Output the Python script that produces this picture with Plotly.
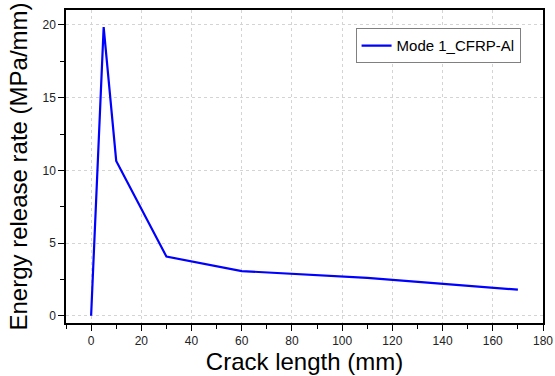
import plotly.graph_objects as go

crack_length = [0, 5, 10, 30, 60, 110, 170]
energy_release = [0, 19.85, 10.65, 4.07, 3.07, 2.6, 1.79]
series_name = "Mode 1_CFRP-Al"

fig = go.Figure()
fig.add_trace(go.Scatter(
    x=crack_length, y=energy_release, mode="lines", name=series_name,
    line=dict(color="#0000ff", width=2.2),
))

axis_common = dict(
    showline=True, linecolor="black", linewidth=1.5, mirror=True,
    ticks="outside", ticklen=6, tickwidth=1.2, tickcolor="black",
    showgrid=True, gridcolor="#d4d4d4", griddash="dot", gridwidth=1,
    zeroline=False, automargin=False,
    tickfont=dict(family="Liberation Sans, Arial", size=12, color="#222"),
)

fig.update_xaxes(
    range=[-10, 180], dtick=20, tick0=0,
    minor=dict(ticks="outside", ticklen=4, dtick=10, tickcolor="black", showgrid=False),
    title=dict(text="Crack length (mm)", font=dict(family="Liberation Sans, Arial", size=24, color="black"), standoff=4),
    **axis_common,
)
fig.update_yaxes(
    range=[-0.5, 21.03], dtick=5, tick0=0,
    minor=dict(ticks="outside", ticklen=4, dtick=2.5, tickcolor="black", showgrid=False),
    title=dict(text="Energy release rate (MPa/mm)", font=dict(family="Liberation Sans, Arial", size=24, color="black"), standoff=8),
    **axis_common,
)

fig.update_layout(
    width=555, height=376,
    margin=dict(l=66, r=12, t=10, b=53),
    paper_bgcolor="white", plot_bgcolor="white",
    showlegend=True,
    legend=dict(
        x=0.953, y=0.9415, xanchor="right", yanchor="top",
        bgcolor="white", bordercolor="#808080", borderwidth=1,
        font=dict(family="Liberation Sans, Arial", size=15, color="black"),
        tracegroupgap=0,
    ),
)

fig.write_html(
    "out.html",
    config={"displayModeBar": False},
    post_script="document.body.style.margin='0px';document.body.style.overflow='hidden';",
)
